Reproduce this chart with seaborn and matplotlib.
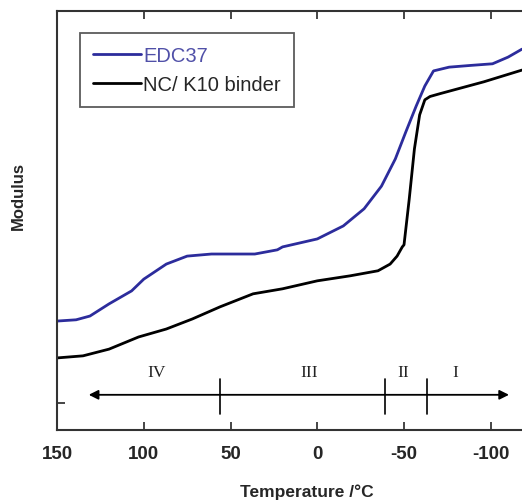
import seaborn as sns
import matplotlib
matplotlib.use('Agg')
import matplotlib.pyplot as plt
import pandas as pd

# EDC37 modulus (arbitrary units)
edc_temp = [150, 139, 131, 120, 107, 100, 87, 75, 61, 36, 23, 20, 0, -15, -27, -37, -45, -51, -57, -62, -67, -76, -88, -101, -110, -118]
edc_mod = [26.0, 26.3, 27.2, 30.1, 33.2, 36.0, 39.6, 41.5, 42.0, 42.0, 43.0, 43.7, 45.6, 48.7, 52.8, 58.2, 64.7, 71.1, 77.3, 82.1, 85.7, 86.6, 87.0, 87.4, 89.0, 90.9]

# NC/ K10 binder
nc_temp = [150, 135, 120, 103, 87, 72, 56, 37, 20, 0, -19, -35, -42, -46, -49, -50, -53, -56, -59, -62, -65, -71, -96, -118]
nc_mod = [17.2, 17.7, 19.3, 22.2, 24.1, 26.5, 29.4, 32.5, 33.7, 35.6, 36.8, 38.0, 39.6, 41.5, 43.7, 44.2, 55.1, 67.1, 75.2, 78.8, 79.6, 80.3, 83.1, 85.9]

# region scale under the curves
arrow_ends = [133.3, -112.1]
region_bounds = [56.1, -38.9, -63.1]
region_names = ['IV', 'III', 'II', 'I']
region_label_x = [92.4, 4.8, -49.3, -79.8]

blue = '#2c2c9c'

sns.set_theme(style='ticks')
plt.rcParams['font.family'] = ['Liberation Sans', 'DejaVu Sans']

fig = plt.figure(figsize=(5.22, 5.02), dpi=100)
ax = fig.add_axes([57 / 522, 71 / 502, 465 / 522, 419 / 502])

df = pd.concat([
    pd.DataFrame({'T': edc_temp, 'M': edc_mod, 'sample': 'EDC37'}),
    pd.DataFrame({'T': nc_temp, 'M': nc_mod, 'sample': 'NC/ K10 binder'}),
])
sns.lineplot(data=df, x='T', y='M', hue='sample', palette=[blue, 'black'],
             linewidth=2, sort=False, estimator=None, ax=ax)

ax.set_xlim(150, -118)
ax.set_ylim(0, 100)
ax.set_xticks([150, 100, 50, 0, -50, -100])
ax.set_xticklabels(['150', '100', '50', '0', '-50', '-100'], fontweight='bold', fontsize=13.5)
ax.set_yticks([6.4])
ax.set_yticklabels([''])
ax.tick_params(axis='x', direction='in', top=True, length=6, width=1.2, pad=11)
ax.tick_params(axis='y', direction='in', length=6, width=1.2)
for s in ['left', 'bottom', 'top']:
    ax.spines[s].set_linewidth(1.5)
    ax.spines[s].set_color('#333333')
ax.spines['right'].set_visible(False)

ax.set_xlabel('Temperature /°C', fontweight='bold', fontsize=12.5)
ax.xaxis.set_label_coords(0.538, -0.127)
ax.set_ylabel('Modulus', fontweight='bold', fontsize=12)
ax.yaxis.set_label_coords(-0.068, 0.56)

# region arrow
ax.annotate('', xy=(arrow_ends[1], 8.4), xytext=(arrow_ends[0], 8.4),
            arrowprops=dict(arrowstyle='<|-|>', color='black', lw=1.3, mutation_scale=14))
for b in region_bounds:
    ax.plot([b, b], [3.8, 12.2], color='black', lw=1.2)
for name, xl in zip(region_names, region_label_x):
    ax.text(xl, 13.8, name, ha='center', va='center', fontsize=12.5, family='Liberation Serif',
            color='#222222')

leg = ax.legend(loc='upper left', bbox_to_anchor=(0.049, 0.947), borderaxespad=0, frameon=True,
                fancybox=False, fontsize=14.5, handlelength=2.4, handletextpad=0.1, borderpad=0.65,
                labelspacing=0.5, title=None)
leg.get_frame().set_edgecolor('#333333')
leg.get_frame().set_linewidth(1.3)
leg.get_texts()[0].set_color('#5050a8')

fig.savefig('out.png', dpi=100)
